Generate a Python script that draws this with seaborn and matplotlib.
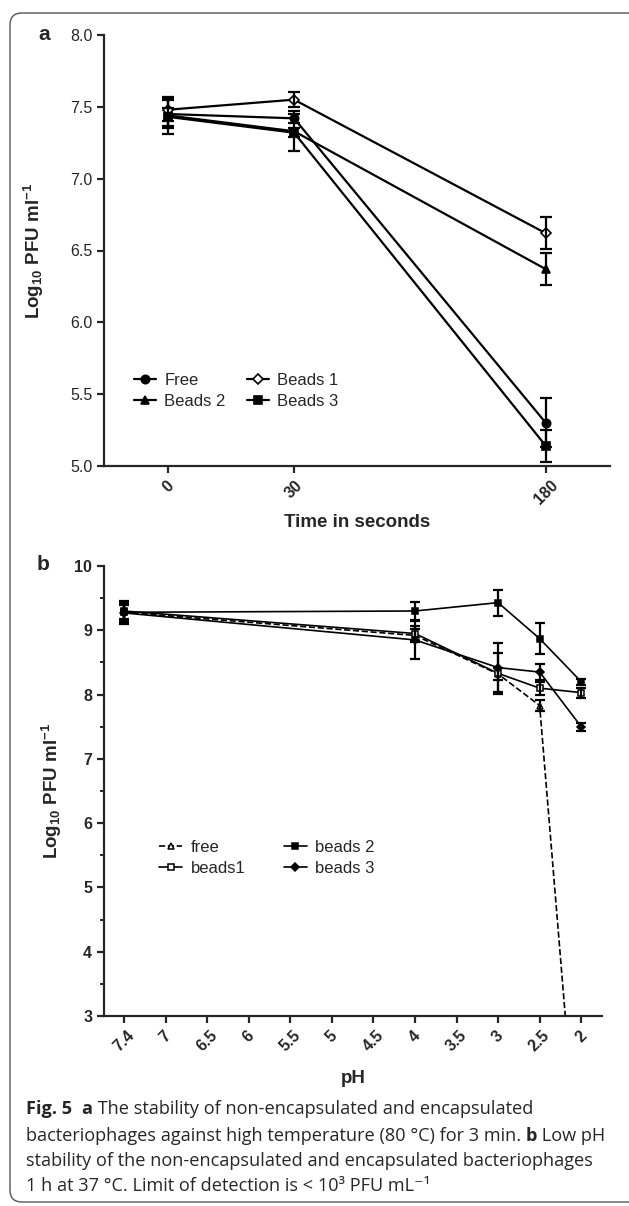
import numpy as np
import pandas as pd
import seaborn as sns
import matplotlib.pyplot as plt
from matplotlib.patches import FancyBboxPatch

# ---- panel a: heat stability (80 C) ----
time_s = [0, 30, 180]
time_pos = {0: 0, 30: 1, 180: 3}   # gapped category axis as in the original
free_a = [7.45, 7.42, 5.30]
free_a_sd = [0.10, 0.03, 0.17]
beads1_a = [7.48, 7.55, 6.62]
beads1_a_sd = [0.08, 0.05, 0.11]
beads2_a = [7.44, 7.33, 6.37]
beads2_a_sd = [0.13, 0.14, 0.11]
beads3_a = [7.43, 7.32, 5.14]
beads3_a_sd = [0.06, 0.03, 0.11]

# ---- panel b: low pH stability ----
ph_ticks = ["7.4", "7", "6.5", "6", "5.5", "5", "4.5", "4", "3.5", "3", "2.5", "2"]
ph_meas = ["7.4", "4", "3", "2.5", "2"]
free_b = [9.28, 8.92, 8.32, 7.83, 0.0]   # below detection at pH 2
free_b_sd = [0.15, 0.10, 0.10, 0.08, 0.0]
beads1_b = [9.30, 8.95, 8.33, 8.10, 8.03]
beads1_b_sd = [0.12, 0.12, 0.32, 0.10, 0.08]
beads2_b = [9.28, 9.30, 9.43, 8.87, 8.20]
beads2_b_sd = [0.18, 0.14, 0.20, 0.24, 0.05]
beads3_b = [9.27, 8.85, 8.42, 8.35, 7.50]
beads3_b_sd = [0.12, 0.30, 0.38, 0.12, 0.06]

sns.set_style("ticks")
plt.rcParams['font.family'] = ['Liberation Sans', 'DejaVu Sans']
plt.rcParams['mathtext.fontset'] = 'custom'
plt.rcParams['mathtext.rm'] = 'Liberation Sans:bold'
plt.rcParams['mathtext.default'] = 'rm'
plt.rcParams['axes.linewidth'] = 1.6

W, H = 629, 1206
fig = plt.figure(figsize=(W / 100, H / 100), dpi=100)

def px_axes(left, top, right, bottom):
    return fig.add_axes([left / W, 1 - bottom / H, (right - left) / W, (bottom - top) / H])

ax_a = px_axes(104, 35, 610, 466)
ax_b = px_axes(104, 566, 602, 1016)

# ---- draw panel a ----
xa = [time_pos[t] for t in time_s]
series_a = [
    ("Free", free_a, free_a_sd, dict(marker='o', mfc='k')),
    ("Beads 2", beads2_a, beads2_a_sd, dict(marker='^', mfc='k')),
    ("Beads 1", beads1_a, beads1_a_sd, dict(marker='D', mfc='white', markersize=5)),
    ("Beads 3", beads3_a, beads3_a_sd, dict(marker='s', mfc='k')),
]
for name, vals, sd, st in series_a:
    kw = dict(markersize=6, mec='k', mew=1.2)
    kw.update(st)
    sns.lineplot(x=xa, y=vals, ax=ax_a, color='k', lw=1.6, label=name, **kw)
    ax_a.errorbar(xa, vals, yerr=sd, fmt='none', ecolor='k', elinewidth=1.6,
                  capsize=4, capthick=1.6)

ax_a.set_xlim(-0.51, 3.51)
ax_a.set_ylim(5.0, 8.0)
ax_a.set_xticks(xa)
ax_a.set_xticklabels([str(t) for t in time_s], rotation=45, fontweight='bold', fontsize=11.5)
ax_a.set_yticks(np.arange(5.0, 8.01, 0.5))
ax_a.set_yticklabels([f"{v:.1f}" for v in np.arange(5.0, 8.01, 0.5)], fontsize=11.5)
ax_a.tick_params(width=1.6, length=5)
ax_a.set_xlabel("Time in seconds", fontsize=13.5, fontweight='bold', labelpad=5)
ax_a.set_ylabel(r"Log$_{10}$ PFU ml$^{-1}$", fontsize=13.5, fontweight='bold')
ax_a.yaxis.set_label_coords(-0.115, 0.5)
ax_a.legend(ncol=2, frameon=False, fontsize=12, loc='upper left',
            bbox_to_anchor=(0.03, 0.25), handlelength=1.3, columnspacing=1.3,
            handletextpad=0.5, labelspacing=0.35)
sns.despine(ax=ax_a)

# ---- draw panel b ----
xb = [ph_ticks.index(p) for p in ph_meas]
series_b = [
    ("free", free_b, free_b_sd, dict(marker='^', mfc='white', ls='--', markersize=4)),
    ("beads1", beads1_b, beads1_b_sd, dict(marker='s', mfc='white', markersize=5)),
    ("beads 2", beads2_b, beads2_b_sd, dict(marker='s', mfc='k', markersize=5)),
    ("beads 3", beads3_b, beads3_b_sd, dict(marker='D', mfc='k', markersize=4)),
]
for name, vals, sd, st in series_b:
    kw = dict(mec='k', mew=1.1, ls='-')
    kw.update(st)
    sns.lineplot(x=xb, y=vals, ax=ax_b, color='k', lw=1.2, label=name, **kw)
    ax_b.errorbar(xb, vals, yerr=sd, fmt='none', ecolor='k', elinewidth=1.6,
                  capsize=3.5, capthick=1.6)

ax_b.set_xlim(-0.48, 11.5)
ax_b.set_ylim(3, 10)
ax_b.set_xticks(range(len(ph_ticks)))
ax_b.set_xticklabels(ph_ticks, rotation=45, fontweight='bold', fontsize=11.5)
ax_b.set_yticks(range(3, 11))
ax_b.set_yticklabels([str(v) for v in range(3, 11)], fontweight='bold', fontsize=11.5)
ax_b.set_yticks(np.arange(3.5, 10, 1.0), minor=True)
ax_b.tick_params(width=1.6, length=5)
ax_b.tick_params(which='minor', width=1.4, length=3)
ax_b.set_xlabel("pH", fontsize=13.5, fontweight='bold', labelpad=11)
ax_b.set_ylabel(r"Log$_{10}$ PFU ml$^{-1}$", fontsize=13.5, fontweight='bold')
ax_b.yaxis.set_label_coords(-0.08, 0.5)
ax_b.legend(ncol=2, frameon=False, fontsize=12, loc='upper left',
            bbox_to_anchor=(0.08, 0.425), handlelength=1.4, columnspacing=2.3,
            handletextpad=0.5, labelspacing=0.35)
sns.despine(ax=ax_b)

# panel letters
fig.text(44 / W, 1 - 35 / H, "a", fontsize=15, fontweight='bold', ha='center', va='center')
fig.text(43 / W, 1 - 565 / H, "b", fontsize=15, fontweight='bold', ha='center', va='center')

# ---- caption ----
cap_font = ['Open Sans', 'DejaVu Sans']
cap_size = 13.1
renderer = fig.canvas.get_renderer()

def rich_line(x_px, y_px, parts):
    x = x_px / W
    for txt, weight in parts:
        t = fig.text(x, 1 - y_px / H, txt, fontsize=cap_size, fontweight=weight,
                     family=cap_font, va='baseline', ha='left')
        x += t.get_window_extent(renderer).width / W

rich_line(26, 1114, [("Fig. 5", 'bold'), ("  ", 'normal'), ("a", 'bold'),
                     (" The stability of non-encapsulated and encapsulated", 'normal')])
rich_line(26, 1141, [("bacteriophages against high temperature (80 °C) for 3 min. ", 'normal'),
                     ("b", 'bold'), (" Low pH", 'normal')])
rich_line(26, 1166, [("stability of the non-encapsulated and encapsulated bacteriophages", 'normal')])
rich_line(26, 1191, [("1 h at 37 °C. Limit of detection is < 10³ PFU mL⁻¹", 'normal')])

# rounded frame around figure + caption
frame = FancyBboxPatch((10, 4), 640, 1189, boxstyle="round,pad=0,rounding_size=12",
                       transform=None, fill=False, ec='#555555', lw=1.0)
fig.patches.append(frame)

fig.savefig("out.png", dpi=100)
